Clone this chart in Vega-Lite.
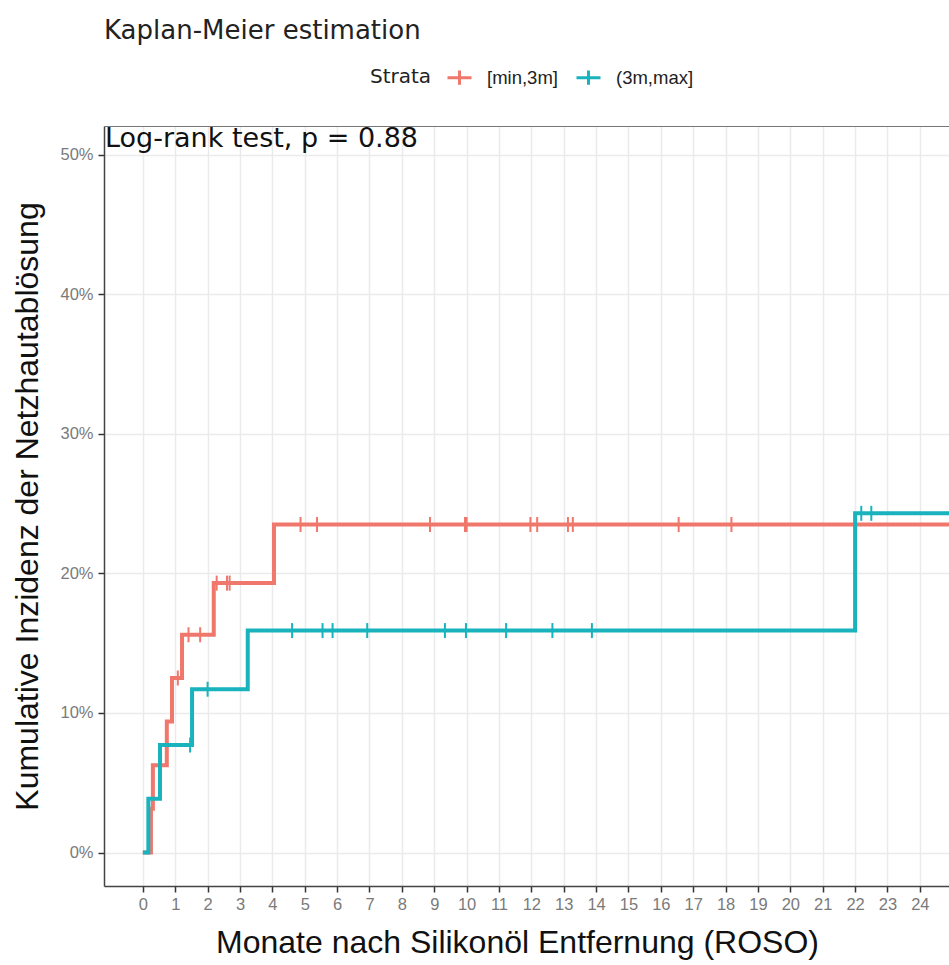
{
  "$schema": "https://vega.github.io/schema/vega-lite/v6.json",
  "width": 845,
  "height": 760,
  "autosize": {"type": "none"},
  "padding": {"left": 104, "top": 126, "right": 0, "bottom": 79},
  "background": "white",
  "title": {
    "text": "Kaplan-Meier estimation",
    "anchor": "start",
    "frame": "group",
    "font": "DejaVu Sans",
    "fontSize": 26,
    "fontWeight": "normal",
    "color": "#222222",
    "offset": 20
  },
  "config": {
    "view": {"stroke": null}
  },
  "datasets": {
    "curves": [
      {"t": 0, "p": 0, "strata": "[min,3m]"},
      {"t": 0.25, "p": 3.13, "strata": "[min,3m]"},
      {"t": 0.31, "p": 6.25, "strata": "[min,3m]"},
      {"t": 0.74, "p": 9.38, "strata": "[min,3m]"},
      {"t": 0.9, "p": 12.5, "strata": "[min,3m]"},
      {"t": 1.21, "p": 15.6, "strata": "[min,3m]"},
      {"t": 2.19, "p": 19.3, "strata": "[min,3m]"},
      {"t": 4.05, "p": 23.5, "strata": "[min,3m]"},
      {"t": 24.9, "p": 23.5, "strata": "[min,3m]"},
      {"t": 0, "p": 0, "strata": "(3m,max]"},
      {"t": 0.17, "p": 3.85, "strata": "(3m,max]"},
      {"t": 0.53, "p": 7.7, "strata": "(3m,max]"},
      {"t": 1.52, "p": 11.7, "strata": "(3m,max]"},
      {"t": 3.24, "p": 15.9, "strata": "(3m,max]"},
      {"t": 22.0, "p": 24.3, "strata": "(3m,max]"},
      {"t": 24.9, "p": 24.3, "strata": "(3m,max]"}
    ],
    "censor": [
      {"t": 1.08, "p": 12.5, "strata": "[min,3m]"},
      {"t": 1.41, "p": 15.6, "strata": "[min,3m]"},
      {"t": 1.77, "p": 15.6, "strata": "[min,3m]"},
      {"t": 2.28, "p": 19.3, "strata": "[min,3m]"},
      {"t": 2.6, "p": 19.3, "strata": "[min,3m]"},
      {"t": 2.68, "p": 19.3, "strata": "[min,3m]"},
      {"t": 4.87, "p": 23.5, "strata": "[min,3m]"},
      {"t": 5.38, "p": 23.5, "strata": "[min,3m]"},
      {"t": 8.87, "p": 23.5, "strata": "[min,3m]"},
      {"t": 9.95, "p": 23.5, "strata": "[min,3m]"},
      {"t": 10.0, "p": 23.5, "strata": "[min,3m]"},
      {"t": 11.97, "p": 23.5, "strata": "[min,3m]"},
      {"t": 12.18, "p": 23.5, "strata": "[min,3m]"},
      {"t": 13.13, "p": 23.5, "strata": "[min,3m]"},
      {"t": 13.28, "p": 23.5, "strata": "[min,3m]"},
      {"t": 16.55, "p": 23.5, "strata": "[min,3m]"},
      {"t": 18.18, "p": 23.5, "strata": "[min,3m]"},
      {"t": 1.46, "p": 7.7, "strata": "(3m,max]"},
      {"t": 2.0, "p": 11.7, "strata": "(3m,max]"},
      {"t": 4.61, "p": 15.9, "strata": "(3m,max]"},
      {"t": 5.55, "p": 15.9, "strata": "(3m,max]"},
      {"t": 5.86, "p": 15.9, "strata": "(3m,max]"},
      {"t": 6.93, "p": 15.9, "strata": "(3m,max]"},
      {"t": 9.33, "p": 15.9, "strata": "(3m,max]"},
      {"t": 9.98, "p": 15.9, "strata": "(3m,max]"},
      {"t": 11.22, "p": 15.9, "strata": "(3m,max]"},
      {"t": 12.65, "p": 15.9, "strata": "(3m,max]"},
      {"t": 13.87, "p": 15.9, "strata": "(3m,max]"},
      {"t": 22.19, "p": 24.3, "strata": "(3m,max]"},
      {"t": 22.5, "p": 24.3, "strata": "(3m,max]"}
    ],
    "note": [
      {"t": -1.2, "p": 52.05, "label": "Log-rank test, p = 0.88"}
    ]
  },
  "layer": [
    {
      "data": {"name": "curves"},
      "mark": {"type": "line", "interpolate": "step-after", "strokeWidth": 4, "clip": true},
      "encoding": {
        "x": {
          "field": "t",
          "type": "quantitative",
          "scale": {"domain": [-1.2, 24.9], "nice": false, "zero": false},
          "axis": {
            "orient": "bottom",
            "values": [0,1,2,3,4,5,6,7,8,9,10,11,12,13,14,15,16,17,18,19,20,21,22,23,24],
            "title": "Monate nach Silikonöl Entfernung (ROSO)",
            "titleFont": "Liberation Sans",
            "titleFontSize": 32,
            "titleFontWeight": "normal",
            "titleColor": "#111111",
            "titlePadding": 15,
            "titleX": 413,
            "grid": true,
            "gridColor": "#ebebeb",
            "gridWidth": 1.5,
            "domain": true,
            "domainColor": "#444444",
            "domainWidth": 1.5,
            "ticks": true,
            "tickColor": "#333333",
            "tickSize": 6,
            "tickWidth": 1.5,
            "labelFont": "Liberation Sans",
            "labelFontSize": 16.5,
            "labelColor": "#7a7a7a",
            "labelPadding": 4,
            "labelFlush": false,
            "labelOverlap": false
          }
        },
        "y": {
          "field": "p",
          "type": "quantitative",
          "scale": {"domain": [-2.4, 52.05], "nice": false, "zero": false},
          "axis": {
            "values": [0, 10, 20, 30, 40, 50],
            "labelExpr": "datum.value + '%'",
            "title": "Kumulative Inzidenz der Netzhautablösung",
            "titleFont": "Liberation Sans",
            "titleFontSize": 32,
            "titleFontWeight": "normal",
            "titleColor": "#111111",
            "titlePadding": 15,
            "grid": true,
            "gridColor": "#ebebeb",
            "gridWidth": 1.5,
            "domain": true,
            "domainColor": "#444444",
            "domainWidth": 1.5,
            "ticks": true,
            "tickColor": "#333333",
            "tickSize": 6,
            "tickWidth": 1.5,
            "labelFont": "Liberation Sans",
            "labelFontSize": 16.5,
            "labelColor": "#7a7a7a",
            "labelPadding": 5,
            "labelFlush": false,
            "labelOverlap": false
          }
        },
        "color": {
          "field": "strata",
          "type": "nominal",
          "scale": {"domain": ["[min,3m]", "(3m,max]"], "range": ["#F0776C", "#19B3BD"]},
          "legend": {
            "orient": "none",
            "legendX": 266,
            "legendY": -62,
            "direction": "horizontal",
            "title": "Strata",
            "titleOrient": "left",
            "titleFont": "DejaVu Sans",
            "titleFontSize": 20,
            "titleFontWeight": "normal",
            "titleColor": "#222222",
            "titlePadding": 14,
            "labelFont": "Liberation Sans",
            "labelFontSize": 18.5,
            "labelColor": "#222222",
            "labelOffset": 14,
            "columnPadding": 12,
            "symbolType": "M-1,0L1,0M0,-0.6L0,0.6",
            "symbolSize": 576,
            "symbolStrokeWidth": 3
          }
        }
      }
    },
    {
      "data": {"name": "censor"},
      "mark": {"type": "point", "shape": "M0,-1L0,1", "size": 225, "strokeWidth": 2, "filled": false, "opacity": 1},
      "encoding": {
        "x": {"field": "t", "type": "quantitative", "axis": null},
        "y": {"field": "p", "type": "quantitative"},
        "color": {"field": "strata", "type": "nominal"}
      }
    },
    {
      "data": {"name": "note"},
      "mark": {"type": "text", "align": "left", "baseline": "top", "font": "DejaVu Sans", "fontSize": 27, "color": "#111111", "dx": 1, "dy": 0},
      "encoding": {
        "x": {
          "field": "t",
          "type": "quantitative",
          "axis": {"orient": "top", "labels": false, "ticks": false, "grid": false, "domain": true, "domainColor": "#777777", "domainWidth": 1, "title": null}
        },
        "y": {"field": "p", "type": "quantitative"},
        "text": {"field": "label"}
      }
    }
  ],
  "resolve": {"axis": {"x": "independent"}}
}
